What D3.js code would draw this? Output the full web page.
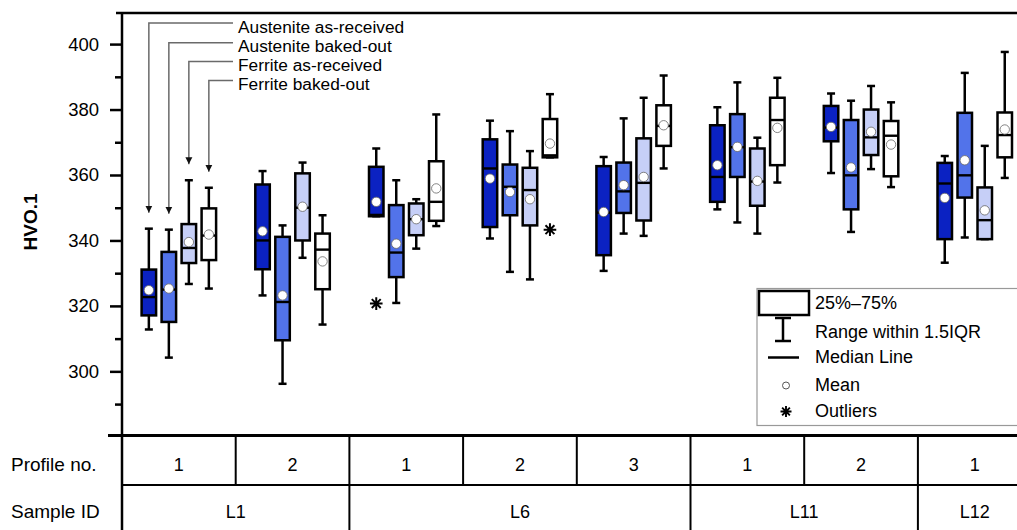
<!DOCTYPE html>
<html>
<head>
<meta charset="utf-8">
<script src="https://cdn.jsdelivr.net/npm/d3@7"></script>
<style>
  html, body { margin: 0; padding: 0; background: #fff; }
  svg { display: block; font-family: "Liberation Sans", Arial, Helvetica, sans-serif; }
</style>
</head>
<body>
<svg id="chart" width="1017" height="530"></svg>
<script>
// ---------- DATA ----------
const profileLabels = ["1", "2", "1", "2", "3", "1", "2", "1"];
const sampleIds = ["L1", "L6", "L11", "L12"];
const sampleSpans = [[0, 2], [2, 5], [5, 7], [7, 8]];   // group index ranges
const seriesNames = ["Austenite as-received", "Austenite baked-out", "Ferrite as-received", "Ferrite baked-out"];
const seriesColors = ["#0b22c2", "#5273ea", "#c6cff7", "#ffffff"];
const yTicks = [300, 320, 340, 360, 380, 400];

// [group][series]
const whiskerHigh = [
  [343.6, 343.3, 358.4, 356.1],
  [361.2, 344.6, 363.8, 347.7],
  [368.1, 358.4, 352.6, 378.5],
  [376.6, 373.4, 367.3, 384.7],
  [365.5, 377.3, 383.6, 390.4],
  [380.7, 388.3, 371.4, 389.7],
  [384.9, 382.7, 387.2, 382.2],
  [365.8, 391.2, 368.9, 397.6]
];
const q3 = [
  [331.1, 336.5, 345.0, 349.8],
  [357.1, 341.1, 360.5, 342.1],
  [362.5, 350.8, 351.3, 364.2],
  [370.9, 363.2, 362.2, 377.1],
  [362.7, 363.8, 371.2, 381.3],
  [375.2, 378.6, 368.1, 383.6],
  [381.1, 376.8, 380.0, 376.5],
  [363.7, 379.0, 356.2, 379.1]
];
const median = [
  [322.7, 325.0, 337.7, 341.5],
  [340.0, 321.2, 350.0, 337.2],
  [347.8, 336.3, 346.5, 351.8],
  [362.0, 356.4, 355.4, 366.0],
  [348.5, 355.0, 357.6, 375.0],
  [359.4, 368.5, 358.0, 376.8],
  [374.5, 359.9, 371.5, 372.0],
  [357.4, 359.9, 346.2, 372.2]
];
const q1 = [
  [317.1, 315.1, 333.1, 334.0],
  [331.2, 309.5, 340.0, 325.1],
  [347.4, 328.8, 341.6, 346.0],
  [344.1, 347.7, 344.6, 365.4],
  [335.5, 348.4, 346.1, 368.9],
  [351.8, 359.4, 350.6, 363.0],
  [370.3, 349.5, 366.1, 359.6],
  [340.4, 353.1, 340.4, 365.4]
];
const whiskerLow = [
  [312.8, 304.2, 326.7, 325.3],
  [323.2, 296.2, 334.7, 314.3],
  [347.4, 320.9, 337.5, 344.4],
  [340.6, 330.4, 328.1, 365.4],
  [330.7, 342.1, 341.4, 362.0],
  [349.5, 345.5, 342.1, 357.7],
  [360.6, 342.6, 361.8, 356.3],
  [333.2, 340.9, 340.4, 359.1]
];
const means = [
  [324.8, 325.3, 339.5, 341.8],
  [342.8, 323.2, 350.3, 333.6],
  [351.8, 339.0, 346.5, 355.9],
  [358.9, 354.8, 352.6, 369.6],
  [348.7, 356.9, 359.4, 375.2],
  [363.0, 368.6, 358.2, 374.4],
  [374.7, 362.3, 373.2, 369.3],
  [353.0, 364.5, 349.2, 373.9]
];
const outlierGroup = [2, 3];
const outlierSeries = [0, 3];
const outlierValue = [320.7, 343.3];

// ---------- LAYOUT ----------
const svg = d3.select("#chart");
const plotLeft = 122, plotTop = 13, plotBottom = 435.5, row1Bottom = 485;
const groupCount = profileLabels.length;
const groupWidth = 113.7;

const x = d3.scaleBand()
  .domain(d3.range(groupCount))
  .range([plotLeft, plotLeft + groupWidth * groupCount])
  .paddingInner(0).paddingOuter(0);
const y = d3.scaleLinear().domain([280.4, 409.5]).range([plotBottom, plotTop]);

const boxPitch = 20, boxW = 14.5, capW = 8;
const boxX = (g, s) => x(g) + x.bandwidth() / 2 + (s - 1.5) * boxPitch;

// Top border
svg.append("line")
  .attr("x1", 116).attr("x2", 1017).attr("y1", plotTop).attr("y2", plotTop)
  .attr("stroke", "#000").attr("stroke-width", 2.5);

// Y axis (major + minor ticks)
const axisMajor = d3.axisLeft(y).tickValues(yTicks).tickSize(12).tickFormat(d3.format("d"));
const gMajor = svg.append("g").attr("transform", `translate(${plotLeft},0)`).call(axisMajor);
gMajor.select(".domain").remove();
gMajor.selectAll(".tick line").attr("stroke", "#000").attr("stroke-width", 2.5);
gMajor.selectAll(".tick text").attr("font-size", 18.5).attr("fill", "#000")
  .attr("x", -23).attr("font-family", "Liberation Sans, Arial, sans-serif");

const minorTicks = d3.range(290, 400, 20);
const axisMinor = d3.axisLeft(y).tickValues(minorTicks).tickSize(7).tickFormat("");
const gMinor = svg.append("g").attr("transform", `translate(${plotLeft},0)`).call(axisMinor);
gMinor.select(".domain").remove();
gMinor.selectAll(".tick line").attr("stroke", "#000").attr("stroke-width", 2.5);

// Axis line running through table
svg.append("line")
  .attr("x1", plotLeft).attr("x2", plotLeft).attr("y1", plotTop - 1).attr("y2", 530)
  .attr("stroke", "#000").attr("stroke-width", 2.5);

// Y label
svg.append("text")
  .attr("transform", `translate(37,222) rotate(-90)`)
  .attr("text-anchor", "middle")
  .attr("font-size", 19).attr("font-weight", "bold")
  .text("HVO.1");

// ---------- Boxes ----------
const cells = [];
for (let g = 0; g < groupCount; g++) for (let s = 0; s < 4; s++) cells.push({ g, s });

const gb = svg.append("g");
const box = gb.selectAll("g.box").data(cells).join("g").attr("class", "box");

// whisker stem
box.append("line")
  .attr("x1", d => boxX(d.g, d.s)).attr("x2", d => boxX(d.g, d.s))
  .attr("y1", d => y(whiskerLow[d.g][d.s])).attr("y2", d => y(whiskerHigh[d.g][d.s]))
  .attr("stroke", "#000").attr("stroke-width", 2.5);
// caps
box.append("line")
  .attr("x1", d => boxX(d.g, d.s) - capW / 2).attr("x2", d => boxX(d.g, d.s) + capW / 2)
  .attr("y1", d => y(whiskerHigh[d.g][d.s])).attr("y2", d => y(whiskerHigh[d.g][d.s]))
  .attr("stroke", "#000").attr("stroke-width", 2.5);
box.append("line")
  .attr("x1", d => boxX(d.g, d.s) - capW / 2).attr("x2", d => boxX(d.g, d.s) + capW / 2)
  .attr("y1", d => y(whiskerLow[d.g][d.s])).attr("y2", d => y(whiskerLow[d.g][d.s]))
  .attr("stroke", "#000").attr("stroke-width", 2.5);
// IQR box
box.append("rect")
  .attr("x", d => boxX(d.g, d.s) - boxW / 2).attr("width", boxW)
  .attr("y", d => y(q3[d.g][d.s]))
  .attr("height", d => Math.max(1, y(q1[d.g][d.s]) - y(q3[d.g][d.s])))
  .attr("fill", d => seriesColors[d.s])
  .attr("stroke", "#000").attr("stroke-width", 2.5);
// median
box.append("line")
  .attr("x1", d => boxX(d.g, d.s) - boxW / 2).attr("x2", d => boxX(d.g, d.s) + boxW / 2)
  .attr("y1", d => y(median[d.g][d.s])).attr("y2", d => y(median[d.g][d.s]))
  .attr("stroke", "#000").attr("stroke-width", 2.4);
// mean
box.append("circle")
  .attr("cx", d => boxX(d.g, d.s)).attr("cy", d => y(means[d.g][d.s])).attr("r", 4.7)
  .attr("fill", "#fff").attr("stroke", "#666").attr("stroke-width", 0.8);

// Outliers (asterisks)
function asteriskPath(cx, cy, r) {
  let p = "";
  for (let k = 0; k < 4; k++) {
    const a = k * Math.PI / 4;
    p += `M${cx - r * Math.cos(a)},${cy - r * Math.sin(a)}L${cx + r * Math.cos(a)},${cy + r * Math.sin(a)}`;
  }
  return p;
}
svg.append("g").selectAll("path").data(outlierValue).join("path")
  .attr("d", (v, i) => asteriskPath(boxX(outlierGroup[i], outlierSeries[i]), y(v), 6.3))
  .attr("stroke", "#000").attr("stroke-width", 2).attr("fill", "none");

// ---------- Series annotations ----------
const annLineY = [23, 42.7, 61.5, 80.5];
const annTextX = 238, annLineEnd = 233;
const ann = svg.append("g");
svg.append("defs").append("marker")
  .attr("id", "arr").attr("viewBox", "0 0 10 10").attr("refX", 10).attr("refY", 5)
  .attr("markerWidth", 7).attr("markerHeight", 9).attr("markerUnits", "userSpaceOnUse")
  .attr("orient", "auto")
  .append("path").attr("d", "M0,0L10,5L0,10Z").attr("fill", "#111");
seriesNames.forEach((name, s) => {
  const bx = boxX(0, s);
  const tipY = y(whiskerHigh[0][s]) - 16;
  ann.append("path")
    .attr("d", `M${annLineEnd},${annLineY[s]}H${bx}V${tipY}`)
    .attr("fill", "none").attr("stroke", "#6a6a6a").attr("stroke-width", 1.5)
    .attr("marker-end", "url(#arr)");
  ann.append("text")
    .attr("x", annTextX).attr("y", annLineY[s] + 9.5)
    .attr("font-size", 17.3).text(name);
});

// ---------- Legend ----------
const lg = svg.append("g");
lg.append("rect").attr("x", 757).attr("y", 288.5).attr("width", 290).attr("height", 137)
  .attr("fill", "#fff").attr("stroke", "#999").attr("stroke-width", 1.2);
lg.append("rect").attr("x", 759).attr("y", 291).attr("width", 50).attr("height", 24)
  .attr("fill", "none").attr("stroke", "#000").attr("stroke-width", 2.5);
lg.append("path").attr("d", "M775,318H791M783,318V341M775,341H791")
  .attr("stroke", "#000").attr("stroke-width", 2.5).attr("fill", "none");
lg.append("line").attr("x1", 768).attr("x2", 799).attr("y1", 357.5).attr("y2", 357.5)
  .attr("stroke", "#000").attr("stroke-width", 2.5);
lg.append("circle").attr("cx", 786).attr("cy", 385.5).attr("r", 3.5)
  .attr("fill", "#fff").attr("stroke", "#555").attr("stroke-width", 1);
lg.append("path").attr("d", asteriskPath(786, 411.5, 5.5)).attr("stroke", "#000").attr("stroke-width", 1.9);
const legendTexts = ["25%–75%", "Range within 1.5IQR", "Median Line", "Mean", "Outliers"];
const legendBase = [308.5, 337.5, 363, 391, 417];
lg.selectAll("text.lt").data(legendTexts).join("text").attr("class", "lt")
  .attr("x", 815).attr("y", (d, i) => legendBase[i])
  .attr("font-size", 18).text(d => d);

// ---------- Table ----------
const tb = svg.append("g");
tb.append("line").attr("x1", 108).attr("x2", 1017).attr("y1", plotBottom).attr("y2", plotBottom)
  .attr("stroke", "#000").attr("stroke-width", 3);
tb.append("line").attr("x1", plotLeft).attr("x2", 1017).attr("y1", row1Bottom).attr("y2", row1Bottom)
  .attr("stroke", "#000").attr("stroke-width", 2.2);
// profile row dividers
tb.selectAll("line.pd").data(d3.range(1, groupCount)).join("line").attr("class", "pd")
  .attr("x1", g => x(g)).attr("x2", g => x(g))
  .attr("y1", plotBottom).attr("y2", row1Bottom)
  .attr("stroke", "#000").attr("stroke-width", 2);
// sample row dividers
tb.selectAll("line.sd").data(sampleSpans.slice(1)).join("line").attr("class", "sd")
  .attr("x1", d => x(d[0])).attr("x2", d => x(d[0]))
  .attr("y1", row1Bottom).attr("y2", 530)
  .attr("stroke", "#000").attr("stroke-width", 2);
tb.selectAll("text.pl").data(profileLabels).join("text").attr("class", "pl")
  .attr("x", (d, i) => x(i) + x.bandwidth() / 2).attr("y", 471)
  .attr("text-anchor", "middle").attr("font-size", 18).text(d => d);
tb.selectAll("text.sl").data(sampleIds).join("text").attr("class", "sl")
  .attr("x", (d, i) => (x(sampleSpans[i][0]) + x(sampleSpans[i][1] - 1) + x.bandwidth()) / 2)
  .attr("y", 518)
  .attr("text-anchor", "middle").attr("font-size", 18).text(d => d);
tb.append("text").attr("x", 11).attr("y", 471).attr("font-size", 19).text("Profile no.");
tb.append("text").attr("x", 11).attr("y", 518).attr("font-size", 19).text("Sample ID");
</script>
</body>
</html>
